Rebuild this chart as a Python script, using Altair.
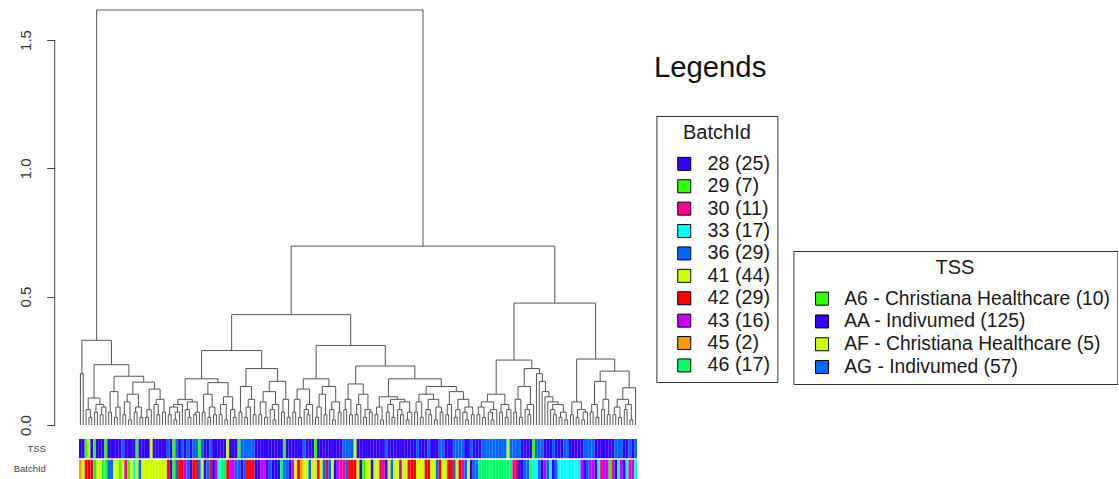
import altair as alt
import pandas as pd

# ---------------- data ----------------
# height at which leaf i joins leaf i+1 (leaves in plotted order, 197 leaves)
merge_heights = [
    0.20, 0.33, 0.06, 0.03, 0.105, 0.05, 0.08, 0.04, 0.07, 0.235,
    0.05, 0.13, 0.03, 0.07, 0.19, 0.04, 0.09, 0.02, 0.12, 0.05,
    0.07, 0.03, 0.167, 0.03, 0.06, 0.14, 0.08, 0.04, 0.10, 0.05,
    1.617, 0.04, 0.07, 0.02, 0.05, 0.08, 0.10, 0.06, 0.03, 0.09,
    0.04, 0.05, 0.18, 0.05, 0.12, 0.03, 0.07, 0.04, 0.165, 0.04,
    0.08, 0.02, 0.11, 0.06, 0.03, 0.29, 0.05, 0.15, 0.03, 0.07,
    0.10, 0.04, 0.22, 0.04, 0.09, 0.03, 0.13, 0.06, 0.02, 0.08,
    0.17, 0.05, 0.10, 0.03, 0.43, 0.05, 0.10, 0.03, 0.14, 0.06,
    0.04, 0.08, 0.18, 0.03, 0.07, 0.12, 0.04, 0.15, 0.06, 0.02,
    0.09, 0.05, 0.31, 0.06, 0.10, 0.04, 0.16, 0.04, 0.08, 0.12,
    0.03, 0.06, 0.05, 0.23, 0.04, 0.07, 0.02, 0.11, 0.05, 0.08,
    0.03, 0.10, 0.06, 0.04, 0.09, 0.02, 0.05, 0.18, 0.05, 0.09,
    0.03, 0.12, 0.06, 0.04, 0.10, 0.02, 0.07, 0.05, 0.15, 0.04,
    0.08, 0.13, 0.03, 0.06, 0.10, 0.05, 0.02, 0.07, 0.04, 0.697,
    0.04, 0.07, 0.03, 0.09, 0.05, 0.02, 0.06, 0.12, 0.05, 0.08,
    0.03, 0.06, 0.253, 0.05, 0.10, 0.03, 0.15, 0.06, 0.04, 0.08,
    0.22, 0.20, 0.17, 0.13, 0.11, 0.09, 0.06, 0.04, 0.08, 0.03,
    0.05, 0.02, 0.475, 0.04, 0.09, 0.03, 0.06, 0.02, 0.05, 0.257,
    0.05, 0.08, 0.03, 0.17, 0.06, 0.10, 0.04, 0.21, 0.04, 0.07,
    0.03, 0.10, 0.06, 0.08, 0.02, 0.145,
]

batch_ids = [
    45, 41, 42, 42, 42, 46, 41, 41, 46, 29,
    36, 36, 41, 41, 29, 41, 30, 29, 41, 33,
    41, 36, 41, 41, 41, 41, 41, 41, 41, 41,
    41, 42, 28, 29, 36, 42, 42, 43, 36, 28,
    42, 42, 36, 41, 28, 36, 42, 28, 30, 33,
    46, 46, 42, 43, 43, 36, 36, 28, 36, 42,
    42, 42, 28, 28, 43, 43, 28, 36, 28, 28,
    28, 46, 36, 36, 28, 43, 41, 42, 45, 41,
    41, 36, 41, 41, 42, 41, 36, 42, 36, 41,
    28, 43, 30, 30, 36, 42, 42, 42, 41, 28,
    29, 41, 41, 28, 41, 41, 30, 30, 28, 41,
    36, 41, 41, 43, 41, 41, 42, 42, 42, 41,
    41, 41, 42, 42, 41, 41, 36, 42, 41, 41,
    42, 42, 36, 41, 42, 30, 36, 41, 28, 36,
    36, 46, 46, 46, 46, 46, 46, 46, 46, 46,
    46, 46, 46, 30, 42, 28, 28, 36, 36, 29,
    33, 33, 36, 28, 43, 36, 33, 28, 36, 33,
    33, 33, 33, 33, 33, 33, 33, 43, 28, 36,
    43, 43, 28, 33, 30, 43, 43, 29, 30, 28,
    33, 43, 28, 33, 30, 43, 33,
]

tss_codes = [
    "AA", "AA", "A6", "AF", "AA", "A6", "AA", "AA", "AA", "A6",
    "AA", "AA", "AA", "AA", "AA", "AG", "AA", "AA", "AA", "AA",
    "A6", "AA", "AA", "AA", "AA", "AF", "AA", "AA", "AA", "AA",
    "AA", "AG", "AA", "A6", "AG", "AA", "AG", "AA", "AG", "AA",
    "AG", "AG", "A6", "AG", "AA", "AA", "AG", "AA", "AA", "AA",
    "AA", "AA", "AF", "AA", "AA", "AA", "A6", "AG", "AG", "AG",
    "AG", "AG", "AA", "AA", "AA", "AA", "AA", "AA", "AA", "AA",
    "AA", "AA", "A6", "AA", "AA", "AA", "AA", "AA", "AA", "AG",
    "AA", "AA", "AA", "A6", "AA", "AA", "AA", "AA", "AA", "AA",
    "AA", "AA", "AA", "AG", "AG", "AG", "AG", "AF", "AA", "AA",
    "AA", "AA", "AA", "AA", "AA", "AA", "AA", "AA", "AG", "AA",
    "AA", "AA", "AA", "AA", "AA", "AA", "AA", "AA", "AA", "AG",
    "AA", "AA", "AA", "AG", "AA", "AA", "AA", "AG", "AG", "AA",
    "AA", "AA", "AG", "AG", "AG", "AG", "AA", "AA", "AG", "AA",
    "AA", "AA", "AG", "AG", "AG", "AG", "AG", "AG", "AG", "AG",
    "AG", "AF", "AG", "AG", "AG", "AG", "AA", "AA", "AA", "AA",
    "A6", "AG", "AG", "AG", "AA", "AA", "AA", "AG", "AA", "AA",
    "AA", "AG", "AG", "AA", "AA", "AA", "AA", "AA", "AG", "AG",
    "AG", "AG", "AA", "AA", "AA", "AA", "AA", "AA", "AA", "AG",
    "AG", "AG", "AA", "AA", "AG", "AA", "AG",
]

batch_keys = [28, 29, 30, 33, 36, 41, 42, 43, 45, 46]
batch_labels = ["28 (25)", "29 (7)", "30 (11)", "33 (17)", "36 (29)",
                "41 (44)", "42 (29)", "43 (16)", "45 (2)", "46 (17)"]
batch_colors = ["#3300FF", "#33FF00", "#FF0099", "#00FFFF", "#0066FF",
                "#CCFF00", "#FF0000", "#CC00FF", "#FF9900", "#00FF66"]

tss_keys = ["A6", "AA", "AF", "AG"]
tss_labels = ["A6 - Christiana Healthcare (10)", "AA - Indivumed (125)",
              "AF - Christiana Healthcare (5)", "AG - Indivumed (57)"]
tss_colors = ["#33FF00", "#3300FF", "#CCFF00", "#0066FF"]

row_names = ["TSS", "BatchId"]
y_ticks = [0.0, 0.5, 1.0, 1.5]

# ---------------- build dendrogram segments ----------------
n = len(batch_ids)
segs = []


def build(lo, hi):
    if lo == hi:
        return float(lo), 0.0
    sub = merge_heights[lo:hi]
    k = lo + sub.index(max(sub))
    xl, hl = build(lo, k)
    xr, hr = build(k + 1, hi)
    h = merge_heights[k]
    segs.append({"x": xl, "x2": xl, "y": hl, "y2": h})
    segs.append({"x": xr, "x2": xr, "y": hr, "y2": h})
    segs.append({"x": xl, "x2": xr, "y": h, "y2": h})
    return (xl + xr) / 2.0, h


build(0, n - 1)
seg_df = pd.DataFrame(segs)
top = max(merge_heights)

FONT = "Liberation Sans"
W = 558
PLOT_LEFT = 78.6
PLOT_TOP = 9

xscale = alt.Scale(domain=[-0.5, n - 0.5], nice=False, zero=False)
yscale = alt.Scale(domain=[0, top], nice=False, zero=False)

tree = alt.Chart(seg_df).mark_rule(color="#555555", strokeWidth=1).encode(
    x=alt.X("x:Q", scale=xscale, axis=None),
    x2="x2:Q",
    y=alt.Y("y:Q", scale=yscale, title=None,
            axis=alt.Axis(values=y_ticks, format=".1f", labelAngle=-90,
                          domain=False, grid=False, offset=24.3,
                          tickSize=8, tickColor="#444", labelPadding=13,
                          labelFont=FONT, labelFontSize=15,
                          labelColor="#333")),
    y2="y2:Q",
)

axis_line = alt.Chart(pd.DataFrame({"a": [y_ticks[0]], "b": [y_ticks[-1]]})).mark_rule(
    color="#444", strokeWidth=1).encode(
    x=alt.value(-24.3), y=alt.Y("a:Q", scale=yscale), y2="b:Q")

legends_title = alt.Chart(pd.DataFrame({"t": ["Legends"]})).mark_text(
    align="left", baseline="alphabetic", font=FONT, fontSize=29.3,
    color="#111").encode(
    x=alt.value(653.5 - PLOT_LEFT), y=alt.value(76 - PLOT_TOP), text="t:N")

dendro = alt.layer(tree, axis_line, legends_title).properties(width=W, height=415)

# ---------------- colour bars ----------------
tss_map = dict(zip(tss_keys, tss_labels))
batch_map = dict(zip(batch_keys, batch_labels))
tss_df = pd.DataFrame({
    "x0": [i - 0.5 for i in range(n)], "x1": [i + 0.5 for i in range(n)],
    "row": row_names[0], "label": [tss_map[c] for c in tss_codes]})
batch_df = pd.DataFrame({
    "x0": [i - 0.5 for i in range(n)], "x1": [i + 0.5 for i in range(n)],
    "row": row_names[1], "label": [batch_map[b] for b in batch_ids]})

row_scale = alt.Scale(domain=row_names, paddingInner=0.075, paddingOuter=0)
row_axis = alt.Axis(title=None, ticks=False, domain=False, labelPadding=33.6,
                    labelFont=FONT, labelFontSize=9.5, labelColor="#444")


def legend(title, lx, ly, pad, fs, loff, rowpad):
    return alt.Legend(title=title, orient="none", legendX=lx, legendY=ly,
                      direction="vertical", titleFont=FONT, titleFontSize=20,
                      titleFontWeight="normal", titleColor="#1a1a1a",
                      titleAnchor="middle", titlePadding=11.5,
                      labelFont=FONT, labelFontSize=fs, labelColor="#1a1a1a",
                      labelLimit=400, labelOffset=loff,
                      symbolType="square", symbolSize=169,
                      symbolStrokeColor="black", symbolStrokeWidth=1,
                      symbolOffset=pad, rowPadding=rowpad,
                      strokeColor="#333", fillColor="white", padding=6.5,
                      cornerRadius=0)


tss_bar = alt.Chart(tss_df).mark_rect().encode(
    x=alt.X("x0:Q", scale=xscale, axis=None), x2="x1:Q",
    y=alt.Y("row:N", scale=row_scale, axis=row_axis),
    color=alt.Color("label:N",
                    scale=alt.Scale(domain=tss_labels, range=tss_colors),
                    legend=legend("TSS", 793 - PLOT_LEFT, 250 - 438, 12.5,
                                  19.3, 12.5, 2.8)),
)
batch_bar = alt.Chart(batch_df).mark_rect().encode(
    x=alt.X("x0:Q", scale=xscale, axis=None), x2="x1:Q",
    y=alt.Y("row:N", scale=row_scale, axis=row_axis),
    color=alt.Color("label:N",
                    scale=alt.Scale(domain=batch_labels, range=batch_colors),
                    legend=legend("BatchId", 656 - PLOT_LEFT, 115 - 438, 11.5,
                                  19.7, 13.5, 1.4)),
)
bars = alt.layer(tss_bar, batch_bar).resolve_scale(color="independent").properties(
    width=W, height=40)

chart = alt.vconcat(dendro, bars, spacing=14, bounds="flush").properties(
    padding={"left": 13, "top": PLOT_TOP, "right": 0, "bottom": 0},
    background="white",
).configure_view(strokeWidth=0)

chart.save("out.html", embed_options={"renderer": "svg", "actions": False})
